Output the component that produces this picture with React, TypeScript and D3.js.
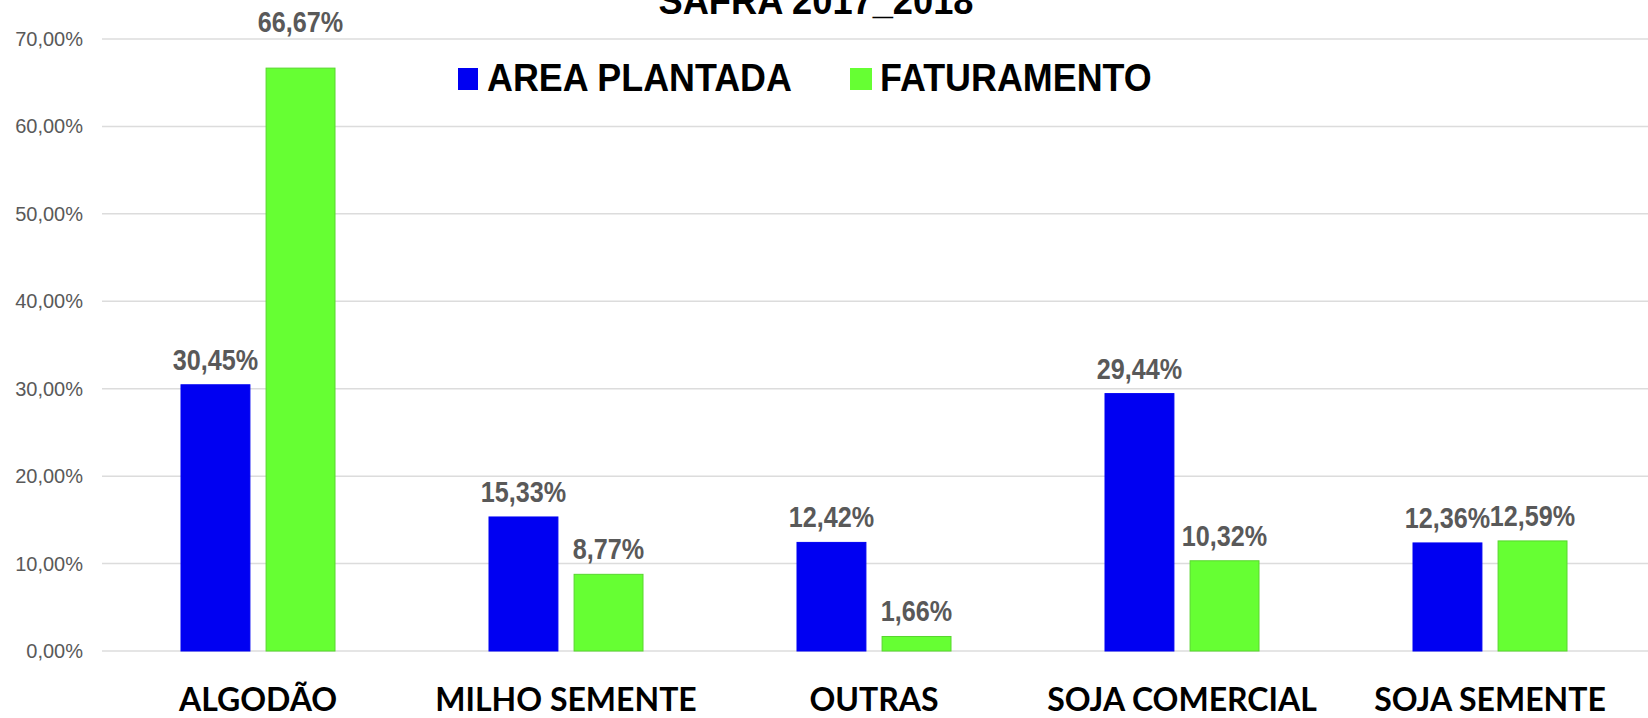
import React from 'react';
import * as d3 from 'd3';

const categories = ['ALGODÃO', 'MILHO SEMENTE', 'OUTRAS', 'SOJA COMERCIAL', 'SOJA SEMENTE'];
const seriesNames = ['AREA PLANTADA', 'FATURAMENTO'];
const areaPlantada = [30.45, 15.33, 12.42, 29.44, 12.36];
const faturamento = [66.67, 8.77, 1.66, 10.32, 12.59];
const yTicks = [0, 10, 20, 30, 40, 50, 60, 70];
const title = 'SAFRA 2017_2018';

const W = 1648;
const H = 718;
const margin = { top: 39, right: 4, bottom: 67, left: 104 };
const colors = ['#0000f2', '#66ff33'];
const strokes = ['#0000f2', '#58d62e'];
const grey = '#595959';
const arial = 'Liberation Sans, Arial, sans-serif';

const fmt = (v: number) => v.toFixed(2).replace('.', ',') + '%';

// text squeezed sideways, the source picture is taller than it is wide
const sText = (x: number, y: number, sx: number, txt: string, props: any) => (
  <text transform={`translate(${x},${y}) scale(${sx},1)`} {...props}>{txt}</text>
);

export default function App() {
  const x0 = d3.scaleBand<string>()
    .domain(categories)
    .range([margin.left, W - margin.right])
    .paddingInner(0.5)
    .paddingOuter(0.25);

  const x1 = d3.scaleBand<string>()
    .domain(seriesNames)
    .range([0, x0.bandwidth()])
    .paddingInner(0.19);

  const y = d3.scaleLinear()
    .domain([0, 70])
    .range([H - margin.bottom, margin.top]);

  const series = [areaPlantada, faturamento];
  const top = y(yTicks[yTicks.length - 1]);

  return (
    <svg width={W} height={H} style={{ position: 'absolute', left: 0, top: 0, background: '#fff' }}>
      <rect width={W} height={H} fill="#fff" />

      {/* gridlines + y labels */}
      {yTicks.map(t => (
        <g key={t}>
          <line x1={102} x2={W} y1={y(t)} y2={y(t)} stroke="#dcdcdc" strokeWidth={1.5} />
          <text x={83} y={y(t) + 7} textAnchor="end" fontFamily={arial} fontSize={20} fill={grey}>
            {fmt(t)}
          </text>
        </g>
      ))}

      {/* bars */}
      {series.map((vals, si) => (
        <g key={seriesNames[si]}>
          {vals.map((v, ci) => (
            <rect
              key={categories[ci]}
              x={(x0(categories[ci]) as number) + (x1(seriesNames[si]) as number)}
              y={y(v)}
              width={x1.bandwidth()}
              height={y(0) - y(v)}
              fill={colors[si]}
              stroke={strokes[si]}
              strokeWidth={1}
            />
          ))}
        </g>
      ))}

      {/* value labels; one that would hit the top gridline goes above it */}
      {series.map((vals, si) => vals.map((v, ci) => {
        const cx = (x0(categories[ci]) as number) + (x1(seriesNames[si]) as number) + x1.bandwidth() / 2;
        let ly = y(v) - 15;
        if (ly - 22 < top + 4) ly = top - 7;
        return (
          <g key={si + '-' + ci}>
            {sText(cx, ly, 0.84, fmt(v), {
              textAnchor: 'middle', fontFamily: arial, fontSize: 30, fontWeight: 'bold', fill: grey
            })}
          </g>
        );
      }))}

      {/* category labels */}
      {categories.map(c => (
        <text
          key={c}
          x={(x0(c) as number) + x0.bandwidth() / 2}
          y={711}
          textAnchor="middle"
          fontFamily="Lato, sans-serif"
          fontWeight="bold"
          fontSize={32}
          fill="#000"
        >{c}</text>
      ))}

      {/* title, cut at the top like the source */}
      {sText(816, 14, 0.93, title, {
        textAnchor: 'middle', fontFamily: arial, fontSize: 39, fontWeight: 'bold', fill: '#000'
      })}

      {/* legend */}
      <g>
        <rect x={458} y={68} width={20} height={22} fill={colors[0]} />
        {sText(487, 91, 0.92, seriesNames[0], {
          fontFamily: arial, fontSize: 39, fontWeight: 'bold', fill: '#000'
        })}
        <rect x={850} y={68} width={22} height={22} fill={colors[1]} />
        {sText(880, 91, 0.92, seriesNames[1], {
          fontFamily: arial, fontSize: 39, fontWeight: 'bold', fill: '#000'
        })}
      </g>
    </svg>
  );
}
